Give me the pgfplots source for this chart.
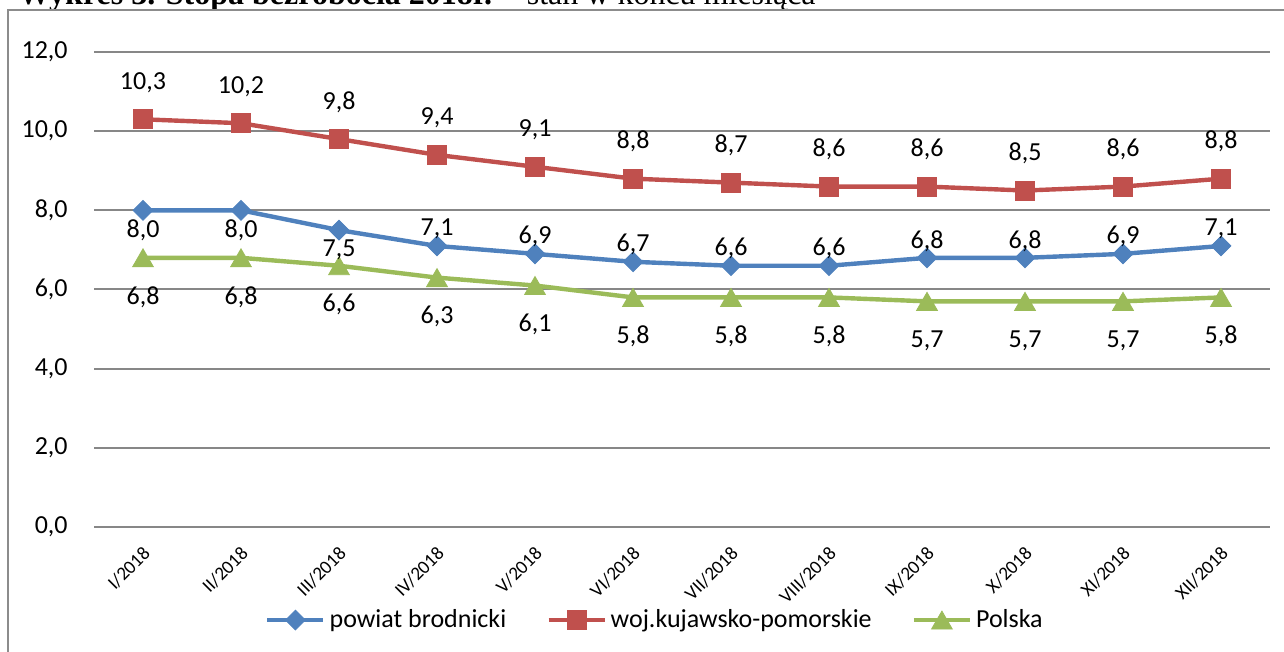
\documentclass[border=0pt]{standalone}
\usepackage{fontspec}
\setmainfont{Carlito}
\newfontfamily\timesfont{Liberation Serif}
\usepackage{pgfplots}
\pgfplotsset{compat=1.18}
\definecolor{serblue}{HTML}{4F81BD}
\definecolor{serred}{HTML}{C0504D}
\definecolor{sergreen}{HTML}{9BBB59}
\definecolor{gridgray}{HTML}{878787}
\definecolor{framegray}{HTML}{8C8C8C}

\begin{document}
\begin{tikzpicture}
\useasboundingbox (0,0) rectangle (642pt,326pt);
\clip (0,0) rectangle (642pt,326pt);
% title, cut by the top edge as in the source
\node[anchor=base west, inner sep=0pt] at (9pt,323.5pt)
  {\timesfont\fontsize{16}{18}\selectfont\textbf{Wykres 3. Stopa bezrobocia 2018r.} – stan w końcu miesiąca};
\draw[framegray, line width=0.9pt] (4pt,-5pt) |- (650pt,321pt);

\begin{axis}[
  at={(47pt,62.5pt)}, anchor=south west,
  scale only axis, width=588pt, height=237.5pt,
  xmin=0.5, xmax=12.5, ymin=0, ymax=12,
  clip=false,
  axis line style={draw=none},
  major tick length=0pt,
  ytick={0,2,...,12},
  ymajorgrids,
  grid style={line width=1pt, gridgray},
  xtick={1,...,12},
  xticklabels={I/2018,II/2018,III/2018,IV/2018,V/2018,VI/2018,VII/2018,VIII/2018,IX/2018,X/2018,XI/2018,XII/2018},
  xticklabel style={font=\fontsize{9.5}{11}\selectfont, anchor=east, inner sep=0pt,
    xshift=2pt, yshift=-11.5pt, rotate=45},
  yticklabel style={anchor=east, inner sep=0pt, xshift=-13pt, font=\fontsize{13}{15}\selectfont},
  /pgf/number format/.cd, fixed, fixed zerofill, precision=1, use comma, assume math mode=true,
  /pgfplots/.cd,
  nodes near coords={\pgfmathprintnumber[fixed,fixed zerofill,precision=1,use comma,assume math mode=true]{\pgfplotspointmeta}},
  every node near coord/.append style={font=\fontsize{13}{15}\selectfont, text=black, inner sep=0pt, anchor=center},
  legend columns=3,
  legend style={at={(0.477,-0.196)}, anchor=center, draw=none, fill=none,
    font=\fontsize{13}{15}\selectfont, nodes={inner sep=1pt},
    /tikz/every odd column/.append style={column sep=1pt},
    /tikz/every even column/.append style={column sep=19pt}},
  legend image code/.code={
    \draw[#1, mark=none] (0pt,0pt) -- (28pt,0pt);
    \draw[#1] plot coordinates {(14pt,0pt)};
  },
]
% series
\addplot[serblue, line width=2.2pt, mark=square*, mark size=3.5pt,
  mark options={rotate=45, line width=0.4pt, fill=serblue}, nodes near coords=] coordinates {
  (1,8.0) (2,8.0) (3,7.5) (4,7.1) (5,6.9) (6,6.7) (7,6.6) (8,6.6) (9,6.8) (10,6.8) (11,6.9) (12,7.1)
};
\addlegendentry{powiat brodnicki}
\addplot[serred, line width=2.2pt, mark=square*, mark size=4.7pt,
  mark options={line width=0.4pt, fill=serred}, nodes near coords=] coordinates {
  (1,10.3) (2,10.2) (3,9.8) (4,9.4) (5,9.1) (6,8.8) (7,8.7) (8,8.6) (9,8.6) (10,8.5) (11,8.6) (12,8.8)
};
\addlegendentry{woj.kujawsko-pomorskie}
\addplot[sergreen, line width=2.2pt, mark=triangle*, mark size=6pt,
  mark options={line width=0.4pt, fill=sergreen, yshift=-1.5pt}, nodes near coords=] coordinates {
  (1,6.8) (2,6.8) (3,6.6) (4,6.3) (5,6.1) (6,5.8) (7,5.8) (8,5.8) (9,5.7) (10,5.7) (11,5.7) (12,5.8)
};
\addlegendentry{Polska}

% data labels
\addplot[draw=none, mark=none, forget plot, every node near coord/.append style={yshift=-10pt}] coordinates {
  (1,8.0) (2,8.0) (3,7.5)
};
\addplot[draw=none, mark=none, forget plot, every node near coord/.append style={yshift=8.5pt}] coordinates {
  (4,7.1) (5,6.9) (6,6.7) (7,6.6) (8,6.6) (9,6.8) (10,6.8) (11,6.9) (12,7.1)
};
\addplot[draw=none, mark=none, forget plot, every node near coord/.append style={yshift=18.5pt}] coordinates {
  (1,10.3) (2,10.2) (3,9.8) (4,9.4) (5,9.1) (6,8.8) (7,8.7) (8,8.6) (9,8.6) (10,8.5) (11,8.6) (12,8.8)
};
\addplot[draw=none, mark=none, forget plot, every node near coord/.append style={yshift=-19.5pt}] coordinates {
  (1,6.8) (2,6.8) (3,6.6) (4,6.3) (5,6.1) (6,5.8) (7,5.8) (8,5.8) (9,5.7) (10,5.7) (11,5.7) (12,5.8)
};
\end{axis}
\end{tikzpicture}
\end{document}
